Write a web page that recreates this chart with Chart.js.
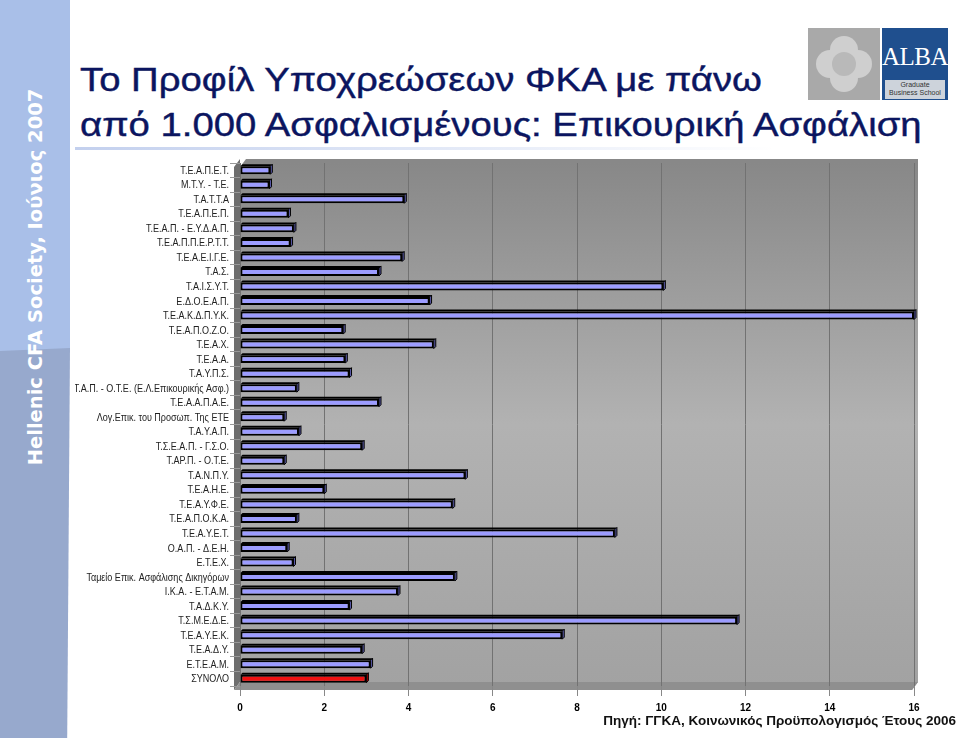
<!DOCTYPE html>
<html>
<head>
<meta charset="utf-8">
<script src="https://cdn.jsdelivr.net/npm/chart.js@4.4.1/dist/chart.umd.min.js"></script>
<style>
  body { margin: 0; width: 960px; height: 738px; position: relative; background: #fff; overflow: hidden;
         font-family: "Liberation Sans", Arial, sans-serif; }
  .side-top { position: absolute; left: 0; top: 0; width: 70px; height: 352px; background: #a9bfe8; }
  .side-bot { position: absolute; left: 0; top: 348px; width: 70px; height: 390px; background: #97a9cd;
              clip-path: polygon(0 3px, 100% 0, 96% 100%, 0 100%); }
  .side-text { position: absolute; left: 35px; top: 277px; transform: translate(-50%, -50%) rotate(-90deg);
               white-space: nowrap; color: #fff; font: bold 19.5px "DejaVu Sans", sans-serif; }
  .title { position: absolute; left: 80px; top: 57px; color: #0b1560; font-size: 33px; line-height: 45px;
           white-space: nowrap; transform: scaleX(1.16); transform-origin: 0 0; -webkit-text-stroke: 0.4px #0b1560; }
  .rule { position: absolute; left: 75px; top: 147px; width: 700px; height: 3px;
          background: linear-gradient(to right, #c3d0ee, rgba(195,208,238,0)); }
  .logo-gray { position: absolute; left: 808px; top: 28px; width: 72px; height: 72px; background: #a9a9a9; }
  .logo-gray .h { position: absolute; left: 8px; top: 22px; width: 56px; height: 28px; background: #cfcfcf; border-radius: 14px; }
  .logo-gray .v { position: absolute; left: 22px; top: 8px; width: 28px; height: 56px; background: #cfcfcf; border-radius: 14px; }
  .logo-gray .c { position: absolute; left: 24px; top: 24px; width: 24px; height: 24px; background: #b9b9b9; border-radius: 12px; }
  .logo-blue { position: absolute; left: 882px; top: 28px; width: 66px; height: 72px; background: #1f4f8e; overflow: hidden; }
  .logo-blue .a { position: absolute; left: 0; top: 15px; width: 66px; text-align: center; color: #fff;
                  font: 25px "Liberation Serif", serif; letter-spacing: -0.5px; }
  .logo-blue .b { position: absolute; left: 3px; top: 52px; width: 60px; height: 18px; background: #cdd3db;
                  color: #333; font: 7px "Liberation Sans", sans-serif; text-align: center; line-height: 8px; padding-top: 1px; }
  .source { position: absolute; right: 4px; top: 713px; font: bold 13.5px "Liberation Sans", Arial, sans-serif;
            color: #111; white-space: nowrap; }
  .wrap { position: absolute; left: 75px; top: 155px; width: 885px; height: 570px; }
</style>
</head>
<body>
<div class="side-top"></div>
<div class="side-bot"></div>
<div class="side-text">Hellenic CFA Society, Ιούνιος 2007</div>
<div class="title">Το Προφίλ Υποχρεώσεων ΦΚΑ με πάνω<br>από 1.000 Ασφαλισμένους: Επικουρική Ασφάλιση</div>
<div class="rule"></div>
<div class="logo-gray"><div class="h"></div><div class="v"></div><div class="c"></div></div>
<div class="logo-blue"><div class="a">ALBA</div><div class="b">Graduate<br>Business School</div></div>
<div class="wrap"><canvas id="chart" width="885" height="570"></canvas></div>
<div class="source">Πηγή: ΓΓΚΑ, Κοινωνικός Προϋπολογισμός Έτους 2006</div>

<script>
// Funds (top to bottom as in the slide)
const funds = [
  'Τ.Ε.Α.Π.Ε.Τ.', 'Μ.Τ.Υ. - Τ.Ε.', 'Τ.Α.Τ.Τ.Α', 'Τ.Ε.Α.Π.Ε.Π.', 'Τ.Ε.Α.Π. - Ε.Υ.Δ.Α.Π.',
  'Τ.Ε.Α.Π.Π.Ε.Ρ.Τ.Τ.', 'Τ.Ε.Α.Ε.Ι.Γ.Ε.', 'Τ.Α.Σ.', 'Τ.Α.Ι.Σ.Υ.Τ.', 'Ε.Δ.Ο.Ε.Α.Π.',
  'Τ.Ε.Α.Κ.Δ.Π.Υ.Κ.', 'Τ.Ε.Α.Π.Ο.Ζ.Ο.', 'Τ.Ε.Α.Χ.', 'Τ.Ε.Α.Α.', 'Τ.Α.Υ.Π.Σ.',
  'Τ.Α.Π. - Ο.Τ.Ε. (Ε.Λ.Επικουρικής Ασφ.)', 'Τ.Ε.Α.Α.Π.Α.Ε.', 'Λογ.Επικ. του Προσωπ. Της ΕΤΕ',
  'Τ.Α.Υ.Α.Π.', 'Τ.Σ.Ε.Α.Π. - Γ.Σ.Ο.', 'Τ.ΑΡ.Π. - Ο.Τ.Ε.', 'Τ.Α.Ν.Π.Υ.', 'Τ.Ε.Α.Η.Ε.',
  'Τ.Ε.Α.Υ.Φ.Ε.', 'Τ.Ε.Α.Π.Ο.Κ.Α.', 'Τ.Ε.Α.Υ.Ε.Τ.', 'Ο.Α.Π. - Δ.Ε.Η.', 'Ε.Τ.Ε.Χ.',
  'Ταμείο Επικ. Ασφάλισης Δικηγόρων', 'Ι.Κ.Α. - Ε.Τ.Α.Μ.', 'Τ.Α.Δ.Κ.Υ.', 'Τ.Σ.Μ.Ε.Δ.Ε.',
  'Τ.Ε.Α.Υ.Ε.Κ.', 'Τ.Ε.Α.Δ.Υ.', 'Ε.Τ.Ε.Α.Μ.', 'ΣΥΝΟΛΟ'
];

// Liabilities per insured
const liabilities = [
  0.72, 0.7, 3.9, 1.15, 1.28,
  1.2, 3.85, 3.3, 10.05, 4.5,
  16.0, 2.45, 4.6, 2.5, 2.6,
  1.35, 3.3, 1.05,
  1.4, 2.9, 1.05, 5.35, 2.0,
  5.05, 1.35, 8.9, 1.12, 1.27,
  5.1, 3.75, 2.6, 11.8,
  7.65, 2.9, 3.1, 3.0
];

const xTickValues = [0, 2, 4, 6, 8, 10, 12, 14, 16];

const barBlue = '#9c9cff';
const barRed = '#ee1111';
const totalLabel = 'ΣΥΝΟΛΟ';

// gray gradient plot background with the 3D wall and floor
const plotBackground = {
  id: 'plotBackground',
  beforeDraw(chart) {
    const { ctx, chartArea: a } = chart;
    ctx.save();
    const g = ctx.createLinearGradient(0, a.top, 0, a.bottom);
    g.addColorStop(0, '#888888');
    g.addColorStop(0.5, '#b2b2b2');
    g.addColorStop(1, '#a2a2a2');
    ctx.fillStyle = g;
    ctx.beginPath();
    ctx.moveTo(a.left, a.top + 4);
    ctx.lineTo(a.left + 6, a.top - 4);
    ctx.lineTo(a.right + 4, a.top - 4);
    ctx.lineTo(a.right + 4, a.bottom - 4);
    ctx.lineTo(a.right - 2, a.bottom + 4);
    ctx.lineTo(a.left, a.bottom + 4);
    ctx.closePath();
    ctx.fill();
    // left wall
    ctx.fillStyle = '#6e6e6e';
    ctx.beginPath();
    ctx.moveTo(a.left - 6, a.top + 4);
    ctx.lineTo(a.left, a.top - 4);
    ctx.lineTo(a.left, a.bottom - 4);
    ctx.lineTo(a.left - 6, a.bottom + 4);
    ctx.closePath();
    ctx.fill();
    // floor
    ctx.fillStyle = '#8f8f8f';
    ctx.beginPath();
    ctx.moveTo(a.left - 6, a.bottom + 4);
    ctx.lineTo(a.left, a.bottom - 4);
    ctx.lineTo(a.right + 4, a.bottom - 4);
    ctx.lineTo(a.right - 2, a.bottom + 4);
    ctx.closePath();
    ctx.fill();
    ctx.restore();
  }
};

// small 3D cap on the end and top of each bar
const barDepth = {
  id: 'barDepth',
  afterDatasetsDraw(chart) {
    const { ctx } = chart;
    const meta = chart.getDatasetMeta(0);
    ctx.save();
    ctx.lineWidth = 1;
    ctx.strokeStyle = '#000';
    meta.data.forEach((bar, i) => {
      const h = bar.height;
      const top = bar.y - h / 2, bot = bar.y + h / 2;
      const x = bar.x, x0 = bar.base;
      ctx.fillStyle = '#000';
      ctx.beginPath();
      ctx.moveTo(x0, top);
      ctx.lineTo(x0 + 2, top - 2);
      ctx.lineTo(x + 2, top - 2);
      ctx.lineTo(x, top);
      ctx.closePath();
      ctx.fill();
      ctx.fillStyle = funds[i] === totalLabel ? '#990000' : '#5a5aa8';
      ctx.beginPath();
      ctx.moveTo(x, top);
      ctx.lineTo(x + 2, top - 2);
      ctx.lineTo(x + 2, bot - 2);
      ctx.lineTo(x, bot);
      ctx.closePath();
      ctx.fill();
      ctx.stroke();
    });
    ctx.restore();
  }
};

// category names in a condensed face, right aligned next to the tick marks
const narrowLabels = {
  id: 'narrowLabels',
  afterDraw(chart) {
    const { ctx, chartArea: a } = chart;
    const y = chart.scales.y;
    ctx.save();
    ctx.fillStyle = '#222';
    ctx.font = '11px "Liberation Sans", Arial, sans-serif';
    ctx.textAlign = 'right';
    ctx.textBaseline = 'middle';
    funds.forEach((name, i) => {
      ctx.save();
      ctx.translate(a.left - 11, y.getPixelForTick(i) + 0.5);
      ctx.scale(0.82, 1);
      ctx.fillText(name, 0, 0);
      ctx.restore();
    });
    ctx.restore();
  }
};

new Chart(document.getElementById('chart'), {
  type: 'bar',
  data: {
    labels: funds,
    datasets: [{
      data: liabilities,
      backgroundColor: funds.map(f => f === totalLabel ? barRed : barBlue),
      borderColor: '#000',
      borderWidth: 2,
      borderSkipped: false,
      categoryPercentage: 1,
      barPercentage: 0.55
    }]
  },
  plugins: [plotBackground, barDepth, narrowLabels],
  options: {
    indexAxis: 'y',
    responsive: false,
    animation: false,
    events: [],
    layout: { padding: { top: 8, right: 46, left: 0, bottom: 0 } },
    plugins: { legend: { display: false }, tooltip: { enabled: false }, title: { display: false } },
    scales: {
      x: {
        min: 0,
        max: 16,
        afterBuildTicks: s => { s.ticks = xTickValues.map(v => ({ value: v })); },
        afterFit: s => { s.height = 39; },
        border: { display: false },
        grid: { color: '#727272', lineWidth: 1, tickLength: 10, drawTicks: true, tickColor: '#888' },
        ticks: { color: '#000', padding: 6, font: { family: '"Liberation Sans", Arial', size: 10, weight: 'bold' } }
      },
      y: {
        afterFit: s => { s.width = 165; },
        border: { display: false },
        grid: { offset: true, drawOnChartArea: false, tickLength: 10, color: '#999' },
        ticks: { display: false, autoSkip: false }
      }
    }
  }
});
</script>
</body>
</html>
